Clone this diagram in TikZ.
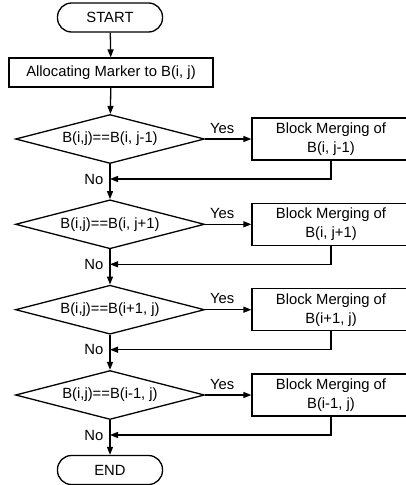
\documentclass[tikz,border=0pt]{standalone}
\usepackage{fontspec}
\setmainfont{Liberation Sans}
\usetikzlibrary{shapes.geometric,arrows.meta}
\begin{document}
\begin{tikzpicture}[x=1pt,y=-1pt,
  font=\fontsize{14.8}{19}\selectfont,
  line width=1.3pt,
  arr/.style={-{Triangle[length=8pt,width=6pt]}},
  term/.style={draw, rectangle, rounded corners=14pt, minimum width=105pt, minimum height=29pt, inner sep=0pt},
  proc/.style={draw, rectangle, minimum width=204pt, minimum height=29pt, inner sep=0pt},
  test/.style={draw, diamond, shape aspect=3.86, minimum width=189pt, minimum height=49pt, inner sep=0pt},
  merge/.style={draw, rectangle, minimum width=158pt, minimum height=42pt, inner sep=0pt, align=center},
  lbl/.style={inner sep=0pt}]
\clip (0,0) rectangle (406,485);

% terminals and the marker step
\node[term] (start) at (110,17.5) {START};
\node[proc] (alloc) at (111,72.5) {Allocating Marker to B(i, j)};

% neighbour tests
\node[test] (d1) at (110,139) {B(i,j)==B(i, j-1)};
\node[test] (d2) at (110,224.3) {B(i,j)==B(i, j+1)};
\node[test] (d3) at (110,309.7) {B(i,j)==B(i+1, j)};
\node[test] (d4) at (110,395) {B(i,j)==B(i-1, j)};

\node[term] (end) at (110,470) {END};

% merge steps
\node[merge] (m1) at (331,139) {Block Merging of\\B(i, j-1)};
\node[merge] (m2) at (331,224.3) {Block Merging of\\B(i, j+1)};
\node[merge] (m3) at (331,309.7) {Block Merging of\\B(i+1, j)};
\node[merge] (m4) at (331,395) {Block Merging of\\B(i-1, j)};

% points where the merge paths rejoin the main line
\coordinate (r1) at (110,179);
\coordinate (r2) at (110,264.3);
\coordinate (r3) at (110,349.7);
\coordinate (r4) at (110,435);

% main line
\draw[arr] (start) -- (alloc);
\draw[arr] (alloc) -- (d1);
\draw[arr] (d1) -- (d2);
\draw[arr] (d2) -- (d3);
\draw[arr] (d3) -- (d4);
\draw[arr] (d4) -- (end);

% yes branches
\foreach \k in {1,2,3,4} {
  \draw[arr] (d\k.east) -- node[lbl, above=5pt, xshift=-6pt] (yes\k) {Yes} (m\k.west);
  \draw[arr] (m\k.south) |- (r\k);
  \node[lbl, anchor=east] (no\k) at ([xshift=-6pt]r\k) {No};
}
\end{tikzpicture}
\end{document}
